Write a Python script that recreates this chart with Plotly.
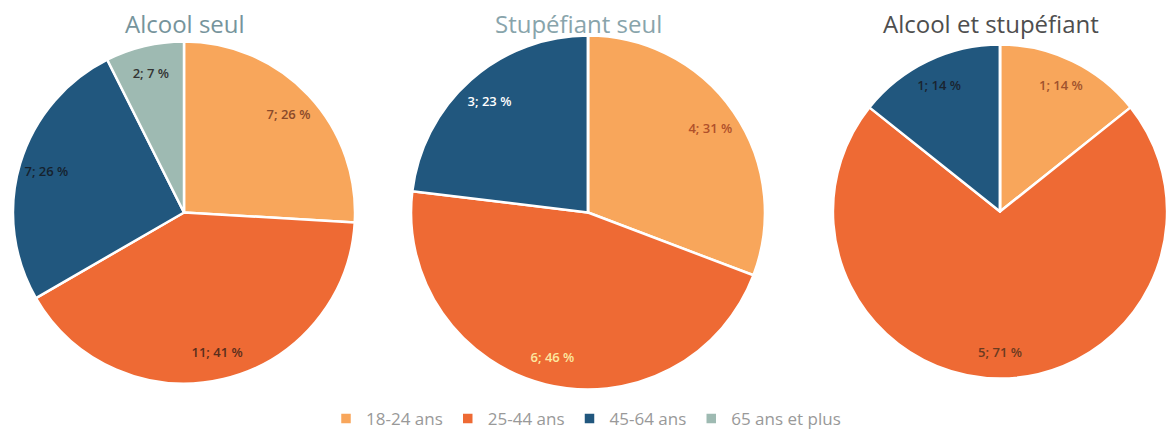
import plotly.graph_objects as go

# tranches d'âge
categories = ["18-24 ans", "25-44 ans", "45-64 ans", "65 ans et plus"]
colors = ["#F8A65B", "#EE6A34", "#21577E", "#9EBAB2"]

titles = ["Alcool seul", "Stupéfiant seul", "Alcool et stupéfiant"]
alcool_seul = [7, 11, 7, 2]
stupefiant_seul = [4, 6, 3, 0]
alcool_et_stup = [1, 5, 1, 0]
series = [alcool_seul, stupefiant_seul, alcool_et_stup]

# couleurs des étiquettes, par graphique
label_colors = [
    ["#8a4a2a", "#5a2e1c", "#16222e", "#333333"],
    ["#b0502a", "#fce8a0", "#ffffff", "#333333"],
    ["#a0522d", "#6b3a20", "#1a2430", "#333333"],
]
title_colors = ["#76949c", "#88a4ab", "#4e4e4e"]
title_x = [185, 578, 991]

W, H = 1172, 437
# (cx, cy, r) en pixels
geo = [(184, 215, 173), (588, 215, 179), (1000, 214, 169)]


def fmt(vals):
    tot = sum(vals)
    return [f"{v}; {round(100 * v / tot)} %" if v else "" for v in vals]


fig = go.Figure()
for i, (vals, (cx, cy, r)) in enumerate(zip(series, geo)):
    dom = dict(x=[(cx - r) / W, (cx + r) / W],
               y=[(H - cy - r) / H, (H - cy + r) / H])
    # secteurs
    fig.add_trace(go.Pie(
        labels=categories, values=vals,
        textinfo="none",
        marker=dict(colors=colors, line=dict(color="white", width=2.5)),
        sort=False, direction="clockwise", rotation=0,
        showlegend=(i == 0),
        hoverinfo="label+value+percent",
        domain=dom,
    ))
    # étiquettes, poussées vers le bord (anneau transparent)
    fig.add_trace(go.Pie(
        labels=categories, values=vals,
        hole=0.68,
        text=fmt(vals), textinfo="text",
        textposition="inside", insidetextorientation="horizontal",
        textfont=dict(size=13, color=label_colors[i], family="Open Sans", weight=600),
        marker=dict(colors=["rgba(0,0,0,0)"] * 4, line=dict(width=0)),
        sort=False, direction="clockwise", rotation=0,
        showlegend=False, hoverinfo="skip",
        domain=dom,
    ))
    fig.add_annotation(
        text=titles[i], x=title_x[i] / W, y=(H - 24) / H,
        xref="paper", yref="paper", xanchor="center", yanchor="middle",
        showarrow=False, font=dict(size=24, color=title_colors[i], family="Open Sans"),
    )

fig.update_layout(
    width=W, height=H,
    margin=dict(l=0, r=0, t=0, b=0),
    paper_bgcolor="white",
    legend=dict(orientation="h", x=0.5, xanchor="center", y=(H - 424) / H, yanchor="middle",
                font=dict(size=17, color="#999999", family="Open Sans"),
                itemwidth=30, traceorder="normal"),
)

fig.write_html("out.html", config={"displayModeBar": False},
               post_script="document.body.style.margin='0';")
